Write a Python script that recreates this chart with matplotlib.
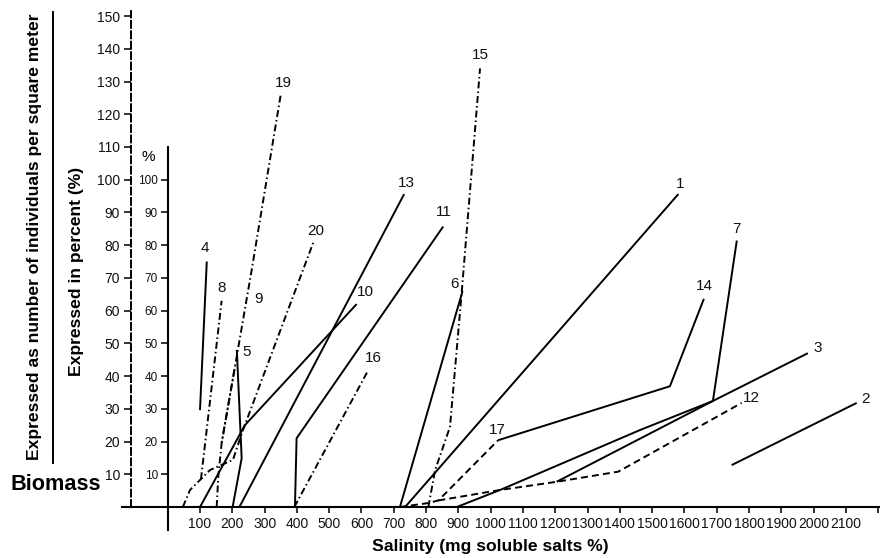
import matplotlib
matplotlib.use("Agg")
import matplotlib.pyplot as plt
from matplotlib.lines import Line2D

plt.rcParams['font.family'] = ['Liberation Sans', 'DejaVu Sans']
plt.rcParams['lines.scale_dashes'] = False

# ---- data (salinity, percent) ----
s1_x = [735, 1581];                 s1_y = [0, 95.6]
s2_x = [1746, 2133];                s2_y = [12.8, 31.8]
s3_x = [895, 1029, 1462, 1688, 1982]; s3_y = [0, 5.2, 23.5, 32.4, 47]
s4_x = [100, 121];                  s4_y = [29.6, 75]
s5_x = [201, 229, 214];             s5_y = [0, 14.9, 48]
s6_x = [719, 913];                  s6_y = [0, 66]
s7_x = [1204, 1688, 1762];          s7_y = [7.7, 32.4, 81.4]
s8_x = [103, 167];                  s8_y = [8.5, 63]
s9_x = [151.7, 156.6, 167.1, 208.3]; s9_y = [0, 9.3, 19.6, 42.9]
s10_x = [100, 239, 585];            s10_y = [0, 25, 62]
s11_x = [394, 399, 853];            s11_y = [0, 21, 85.7]
s12_x = [838, 1029, 1204, 1395, 1777]; s12_y = [2, 5.2, 7.7, 10.8, 31.8]
s13_x = [222, 732];                 s13_y = [0, 95.6]
s14_x = [1023, 1555, 1660];         s14_y = [20.4, 36.9, 63.6]
s15_x = [807, 828, 874, 910, 967];  s15_y = [0, 11.3, 24.5, 65.3, 134]
s16_x = [392, 621];                 s16_y = [0, 41.8]
s17_x = [719, 806, 838, 1023];      s17_y = [0, 1.2, 2, 20.4]
s19_x = [167.1, 208.3, 260, 351];   s19_y = [19.6, 42.9, 72.4, 126.6]
s20_x = [47, 69, 131, 202, 233, 453]; s20_y = [0, 5.2, 11.3, 14.4, 23.5, 81.4]

series_ids = ['1', '2', '3', '4', '5', '6', '7', '8', '9', '10', '11', '12',
              '13', '14', '15', '16', '17', '19', '20']
series_x = [s1_x, s2_x, s3_x, s4_x, s5_x, s6_x, s7_x, s8_x, s9_x, s10_x, s11_x,
            s12_x, s13_x, s14_x, s15_x, s16_x, s17_x, s19_x, s20_x]
series_y = [s1_y, s2_y, s3_y, s4_y, s5_y, s6_y, s7_y, s8_y, s9_y, s10_y, s11_y,
            s12_y, s13_y, s14_y, s15_y, s16_y, s17_y, s19_y, s20_y]

label_x = [1588, 2159, 2013, 115, 245, 889, 1762, 167, 280, 611, 856, 1808,
           738, 1663, 969, 636, 1019, 358, 459]
label_y = [98.8, 33, 48.5, 79, 47.3, 68, 85, 67, 63.7, 65.6, 90, 33.4,
           99, 67.4, 138, 45.4, 23.5, 129.4, 84.2]

x_ticks = list(range(100, 2300, 100))
x_tick_labels = [str(v) for v in range(100, 2200, 100)] + ['']
pct_ticks = list(range(10, 110, 10))
bio_ticks = list(range(10, 160, 10))

# ---- styles ----
SOLID = '-'
DASHDOT = (0, (5, 2.2, 1.1, 2.2))
DASHDOT_SHIFT = (3.5, (5, 2.2, 1.1, 2.2))
DASHED = (0, (5, 3))
styles = {'1': SOLID, '2': SOLID, '3': SOLID, '4': SOLID, '5': SOLID, '6': SOLID,
          '7': SOLID, '8': DASHDOT, '9': DASHDOT, '10': SOLID, '11': SOLID,
          '12': DASHED, '13': SOLID, '14': SOLID, '15': DASHDOT, '16': DASHDOT,
          '17': DASHED, '19': DASHDOT_SHIFT, '20': DASHDOT}

W, H = 880, 558
fig = plt.figure(figsize=(W / 100, H / 100), dpi=100)
ax = fig.add_axes([0, 0, 1, 1])
ax.set_xlim(-519.2, 2205.3)
ax.set_ylim(-15.58, 154.9)
ax.patch.set_alpha(0)

for sid, xs, ys in zip(series_ids, series_x, series_y):
    ax.plot(xs, ys, color='black', lw=1.4, linestyle=styles[sid],
            solid_capstyle='butt', dash_capstyle='butt', solid_joinstyle='miter')

for sid, lx, ly in zip(series_ids, label_x, label_y):
    ax.text(lx, ly, sid, ha='center', va='center', fontsize=11, color='#111111')

# spines: x axis and inner % axis
for side in ['top', 'right']:
    ax.spines[side].set_visible(False)
ax.spines['bottom'].set_position(('data', 0))
ax.spines['bottom'].set_bounds(-141, 2205)
ax.spines['left'].set_position(('data', 0))
ax.spines['left'].set_bounds(-7, 110)
for side in ['bottom', 'left']:
    ax.spines[side].set_linewidth(1.5)

ax.set_xticks(x_ticks)
ax.set_xticklabels(x_tick_labels)
ax.tick_params(axis='x', direction='out', length=4, width=1.2, pad=3,
               labelsize=10, colors='#111111')
ax.set_yticks(pct_ticks)
ax.set_yticklabels([str(v) for v in pct_ticks])
ax.tick_params(axis='y', direction='out', length=5, width=1.2, pad=2,
               labelsize=8.5, colors='#111111')

# outer dashed biomass axis
outer_x = -113.6
loc = (outer_x - (-519.2)) / (2205.3 + 519.2)
sec = ax.secondary_yaxis(loc)
sec.spines['left'].set_linestyle((0, (5, 2.5)))
sec.spines['left'].set_linewidth(1.4)
sec.spines['left'].set_bounds(0, 151.5)
sec.set_yticks(bio_ticks)
sec.set_yticklabels([str(v) for v in bio_ticks])
sec.tick_params(axis='y', direction='out', length=5, width=1.2, pad=3,
                labelsize=10, colors='#111111')

ax.text(-61, 107, '%', ha='center', va='center', fontsize=11)

# axis titles
fig.text(490 / W, 1 - 547 / H, 'Salinity (mg soluble salts %)', ha='center',
         va='center', fontsize=12.6, fontweight='bold')
fig.text(10 / W, 1 - 485 / H, 'Biomass', ha='left', va='center',
         fontsize=15.6, fontweight='bold')
fig.text(35 / W, 1 - 237 / H, 'Expressed as number of individuals per square meter',
         ha='center', va='center', rotation=90, fontsize=12.6, fontweight='bold')
fig.text(76 / W, 1 - 271 / H, 'Expressed in percent (%)', ha='center',
         va='center', rotation=90, fontsize=12.6, fontweight='bold')
fig.add_artist(Line2D([53 / W, 53 / W], [1 - 12 / H, 1 - 463 / H],
                      transform=fig.transFigure, color='black', lw=1.4))

fig.savefig('out.png', dpi=100)
